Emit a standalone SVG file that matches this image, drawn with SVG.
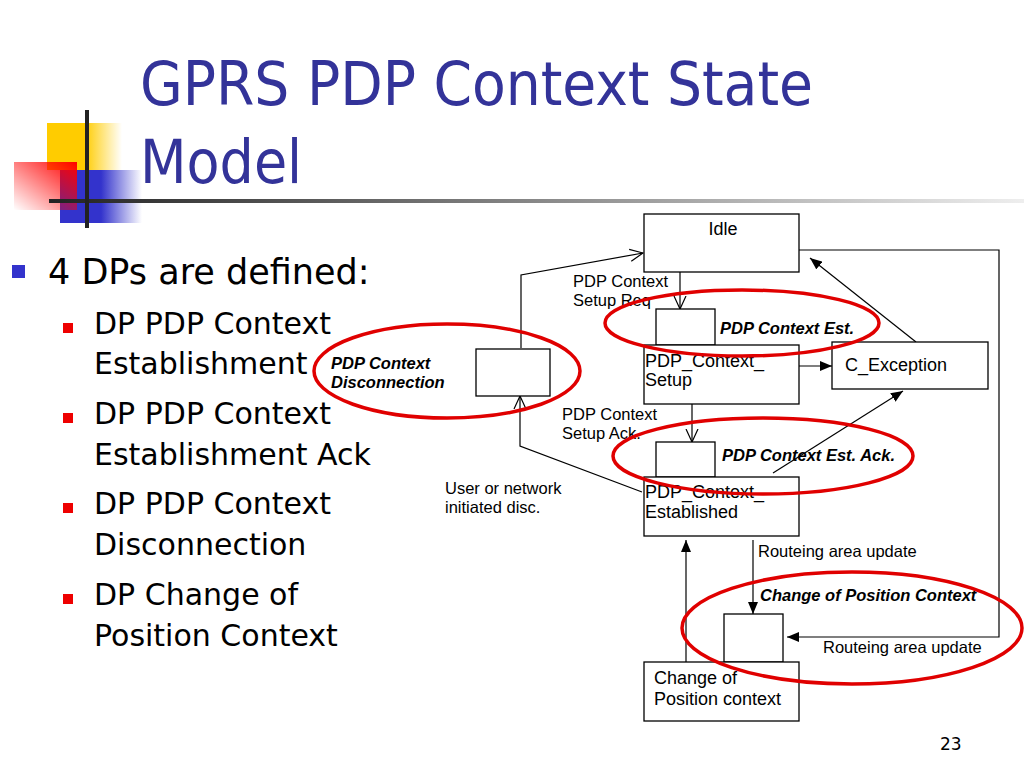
<svg xmlns="http://www.w3.org/2000/svg" width="1024" height="768" viewBox="0 0 1024 768">
<defs>
<style>
.title{font-family:"DejaVu Sans Condensed","DejaVu Sans",sans-serif;font-size:60px;fill:#333399}
.b1{font-family:"DejaVu Sans",sans-serif;font-size:35px;fill:#000}
.b2{font-family:"DejaVu Sans",sans-serif;font-size:30px;fill:#000}
.box{fill:#fff;stroke:#000;stroke-width:1.3}
.bt{font-family:"Liberation Sans",Arial,sans-serif;font-size:18px;fill:#000}
.lt{font-family:"Liberation Sans",Arial,sans-serif;font-size:16.5px;fill:#000}
.dp{font-family:"Liberation Sans",Arial,sans-serif;font-size:16.5px;font-weight:bold;font-style:italic;fill:#000}
.ln{fill:none;stroke:#000;stroke-width:1.2}
.ring{fill:none;stroke:#e00000;stroke-width:3.5}
</style>
<marker id="fa" viewBox="0 0 12 10" refX="12" refY="5" markerWidth="12" markerHeight="10" markerUnits="userSpaceOnUse" orient="auto">
<path d="M0,0 L12,5 L0,10 z" fill="#000"/>
</marker>
<marker id="oa" viewBox="0 0 14 14" refX="13" refY="7" markerWidth="14" markerHeight="14" markerUnits="userSpaceOnUse" orient="auto">
<path d="M0,1 L13,7 L0,13" fill="none" stroke="#000" stroke-width="1.2"/>
</marker>
<linearGradient id="gy" x1="0" y1="0" x2="1" y2="0">
<stop offset="0" stop-color="#ffcc00"/><stop offset="0.5" stop-color="#ffcc00"/><stop offset="1" stop-color="#ffcc00" stop-opacity="0"/>
</linearGradient>
<linearGradient id="gb" x1="0" y1="0" x2="1" y2="0">
<stop offset="0" stop-color="#3333cc"/><stop offset="0.5" stop-color="#3333cc"/><stop offset="1" stop-color="#3333cc" stop-opacity="0"/>
</linearGradient>
<linearGradient id="gr" x1="1" y1="0" x2="0" y2="1">
<stop offset="0" stop-color="#ff0000"/><stop offset="1" stop-color="#ff0000" stop-opacity="0"/>
</linearGradient>
<linearGradient id="gl" x1="0" y1="0" x2="1" y2="0">
<stop offset="0" stop-color="#222"/><stop offset="0.5" stop-color="#888"/><stop offset="1" stop-color="#eee"/>
</linearGradient>
</defs>
<rect width="1024" height="768" fill="#fff"/>

<g id="logo">
<rect x="47" y="123" width="75" height="47" fill="url(#gy)"/>
<rect x="60" y="170" width="82" height="53" fill="url(#gb)"/>
<rect x="14" y="162" width="63" height="48" fill="url(#gr)"/>
<rect x="49" y="199" width="975" height="4" fill="url(#gl)"/>
<rect x="85" y="110" width="4" height="118" fill="#222"/>
</g>

<g id="title">
<text class="title" x="140" y="105" textLength="673" lengthAdjust="spacingAndGlyphs">GPRS PDP Context State</text>
<text class="title" x="140" y="183">Model</text>
</g>

<g id="bullets">
<rect x="12" y="265" width="13" height="13" fill="#3333cc"/>
<text class="b1" x="48" y="284">4 DPs are defined:</text>
<rect x="63" y="323" width="10" height="10" fill="#ee0000"/>
<text class="b2" x="94" y="334">DP PDP Context</text>
<text class="b2" x="94" y="374">Establishment</text>
<rect x="63" y="413" width="10" height="10" fill="#ee0000"/>
<text class="b2" x="94" y="424">DP PDP Context</text>
<text class="b2" x="94" y="465">Establishment Ack</text>
<rect x="63" y="503" width="10" height="10" fill="#ee0000"/>
<text class="b2" x="94" y="514">DP PDP Context</text>
<text class="b2" x="94" y="555">Disconnection</text>
<rect x="63" y="594" width="10" height="10" fill="#ee0000"/>
<text class="b2" x="94" y="605">DP Change of</text>
<text class="b2" x="94" y="646">Position Context</text>
</g>

<g id="connectors">
<line class="ln" x1="680" y1="272" x2="680" y2="309" marker-end="url(#oa)"/>
<polyline class="ln" points="521,348 521,275 643,253" marker-end="url(#oa)"/>
<polyline class="ln" points="642,492 520,446 520,396" marker-end="url(#oa)"/>
<line class="ln" x1="692" y1="404" x2="692" y2="442" marker-end="url(#oa)"/>
<line class="ln" x1="797" y1="366" x2="832" y2="366" marker-end="url(#fa)"/>
<line class="ln" x1="773" y1="473" x2="903" y2="391" marker-end="url(#fa)"/>
<line class="ln" x1="916" y1="342" x2="810" y2="258" marker-end="url(#fa)"/>
<polyline class="ln" points="799,250 999,250 999,637 787,637" marker-end="url(#fa)"/>
<line class="ln" x1="753" y1="540" x2="753" y2="614" marker-end="url(#fa)"/>
<line class="ln" x1="686" y1="662" x2="686" y2="540" marker-end="url(#fa)"/>
</g>

<g id="labels">
<text class="lt" x="573" y="287">PDP Context</text>
<text class="lt" x="573" y="306">Setup Req</text>
<text class="lt" x="562" y="420">PDP Context</text>
<text class="lt" x="562" y="439">Setup Ack.</text>
<text class="lt" x="445" y="494">User or network</text>
<text class="lt" x="445" y="513">initiated disc.</text>
<text class="lt" x="758" y="557">Routeing area update</text>
<text class="lt" x="823" y="653">Routeing area update</text>
</g>

<g id="idle">
<rect class="box" x="644" y="214" width="155" height="58"/>
<text class="bt" x="723" y="235" text-anchor="middle">Idle</text>
</g>
<g id="dp-est">
<rect class="box" x="656" y="309" width="59" height="36"/>
<text class="dp" x="720" y="334">PDP Context Est.</text>
</g>
<g id="setup">
<rect class="box" x="644" y="345" width="155" height="59"/>
<text class="bt" x="645" y="367">PDP_Context_</text>
<text class="bt" x="645" y="386">Setup</text>
</g>
<g id="exception">
<rect class="box" x="832" y="342" width="156" height="47"/>
<text class="bt" x="845" y="371">C_Exception</text>
</g>
<g id="dp-disc">
<rect class="box" x="476" y="349" width="74" height="47"/>
<text class="dp" x="331" y="369">PDP Context</text>
<text class="dp" x="331" y="388">Disconnection</text>
</g>
<g id="dp-ack">
<rect class="box" x="656" y="442" width="59" height="35"/>
<text class="dp" x="722" y="461">PDP Context Est. Ack.</text>
</g>
<g id="established">
<rect class="box" x="644" y="477" width="155" height="59"/>
<text class="bt" x="645" y="498">PDP_Context_</text>
<text class="bt" x="645" y="518">Established</text>
</g>
<g id="dp-pos">
<rect class="box" x="724" y="614" width="59" height="48"/>
<text class="dp" x="760" y="601">Change of Position Context</text>
</g>
<g id="change-pos">
<rect class="box" x="644" y="662" width="155" height="59"/>
<text class="bt" x="654" y="684">Change of</text>
<text class="bt" x="654" y="705">Position context</text>
</g>

<g id="highlights">
<ellipse class="ring" cx="742" cy="323" rx="137" ry="33"/>
<ellipse class="ring" cx="447" cy="371" rx="133" ry="47"/>
<ellipse class="ring" cx="763" cy="456" rx="150" ry="38"/>
<ellipse class="ring" cx="852" cy="628" rx="170" ry="56"/>
</g>

<text x="940" y="750" font-family="DejaVu Sans, sans-serif" font-size="17" fill="#000">23</text>
</svg>
